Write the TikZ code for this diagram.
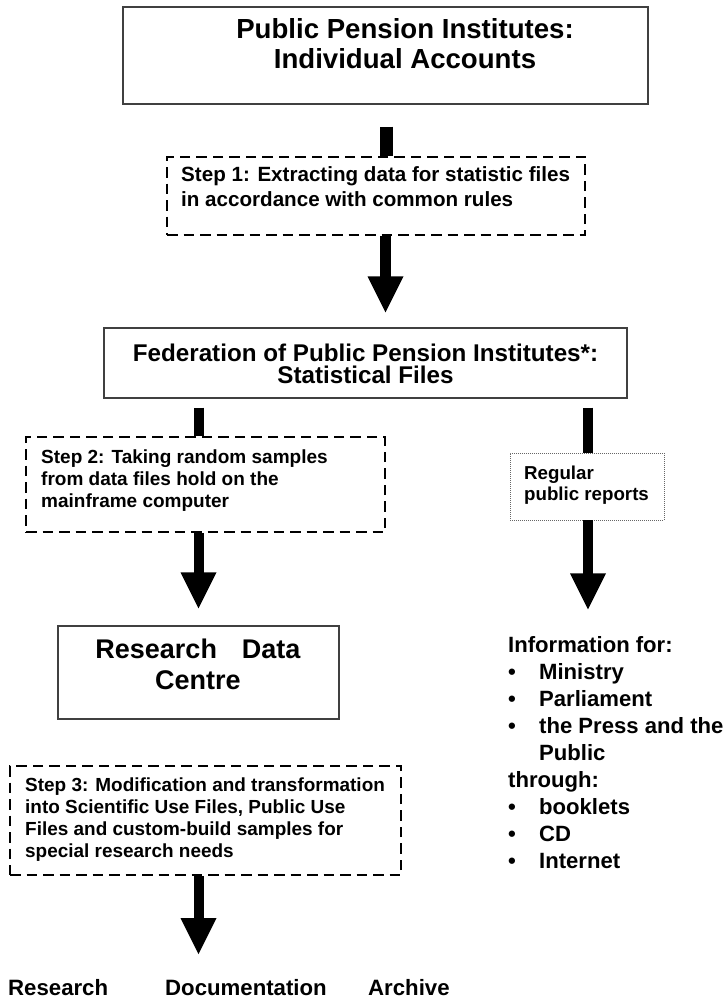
\documentclass[tikz,border=0pt]{standalone}
\usepackage{fontspec}
\setmainfont{Liberation Sans}
\usetikzlibrary{calc}
\newcommand\bulitem{\makebox[31pt][l]{\textbullet}}
\tikzset{
  solidbox/.style={draw=black!75, line width=1.3pt, inner sep=0pt},
  dashbox/.style={draw=black, line width=2pt, dash pattern=on 10.5pt off 6pt, inner sep=0pt},
  dotbox/.style={draw=black!60, line width=0.9pt, dash pattern=on 1pt off 1pt, inner sep=0pt},
  txt/.style={inner sep=0pt},
  shaftline/.style={draw=black, line width=#1},
  ahead/.pic={\fill[black] (-18,0) -- (18,0) -- (0,36) -- cycle;}
}
\begin{document}
\begin{tikzpicture}[x=1pt,y=-1pt]
\useasboundingbox (0,0) rectangle (727,998);

% boxes (text nodes are anchored at the baseline of their last line)
\node[solidbox, minimum width=525pt, minimum height=97pt] (top) at (385.5,55.5) {};
\node[txt, align=center, anchor=base, font=\bfseries\fontsize{27.6pt}{29pt}\selectfont] (toptxt) at (405,68) {Public Pension Institutes:\\Individual Accounts};

\node[dashbox, minimum width=418pt, minimum height=78pt] (s1) at (376,196) {};
\node[txt, align=left, anchor=base west, font=\bfseries\fontsize{20.6pt}{25pt}\selectfont] (s1txt) at (181,206) {Step 1: Extracting data for statistic files\\in accordance with common rules};

\node[solidbox, minimum width=523pt, minimum height=70pt] (fed) at (365.5,363) {};
\node[txt, align=center, anchor=base, font=\bfseries\fontsize{24.2pt}{22pt}\selectfont] (fedtxt) at (365.5,383.5) {Federation of Public Pension Institutes*:\\Statistical Files};

\node[dashbox, minimum width=359pt, minimum height=95pt] (s2) at (205.5,484.5) {};
\node[txt, align=left, anchor=base west, font=\bfseries\fontsize{19pt}{22pt}\selectfont] (s2txt) at (41,507) {Step 2: Taking random samples\\from data files hold on the\\mainframe computer};

\node[dotbox, minimum width=154pt, minimum height=67pt] (reg) at (587,486.5) {};
\node[txt, align=left, anchor=base west, font=\bfseries\fontsize{18.7pt}{21pt}\selectfont] (regtxt) at (524,500) {Regular\\public reports};

\node[solidbox, minimum width=281pt, minimum height=93pt] (rdc) at (198.5,672.5) {};
\node[txt, align=center, anchor=base, font=\bfseries\fontsize{27pt}{31pt}\selectfont] (rdctxt) at (198,689) {Research\hspace{25pt}Data\\Centre};

\node[txt, align=left, anchor=base west, font=\bfseries\fontsize{22.1pt}{26.9pt}\selectfont] (info) at (508,868) {Information for:\\\bulitem Ministry\\\bulitem Parliament\\\bulitem the Press and the\\\hspace*{31pt}Public\\through:\\\bulitem booklets\\\bulitem CD\\\bulitem Internet};

\node[dashbox, minimum width=391pt, minimum height=109pt] (s3) at (205.5,820.5) {};
\node[txt, align=left, anchor=base west, font=\bfseries\fontsize{18.95pt}{22pt}\selectfont] (s3txt) at (25,857) {Step 3: Modification and transformation\\into Scientific Use Files, Public Use\\Files and custom-build samples for\\special research needs};

\node[txt, anchor=base west, font=\bfseries\fontsize{22.2pt}{26pt}\selectfont] (res) at (8,995) {Research};
\node[txt, anchor=base west, font=\bfseries\fontsize{22.2pt}{26pt}\selectfont] (doc) at (165,995) {Documentation};
\node[txt, anchor=base west, font=\bfseries\fontsize{22.2pt}{26pt}\selectfont] (arc) at (368,995) {Archive};

% connectors
\draw[shaftline=13pt] ($(top.south)+(1,22)$) -- ($(top.south |- s1.north)+(1,0)$);

\draw[shaftline=11pt] ($(s1.south)+(9.5,0)$) -- ($(fed.north)+(20,-50)$);
\pic at ($(fed.north)+(20,-51)$) {ahead};

\draw[shaftline=10pt] ($(fed.south -| s2.north)+(-7,9)$) -- ($(s2.north)+(-7,0)$);
\draw[shaftline=10pt] ($(fed.south -| reg.north)+(1,9)$) -- ($(reg.north)+(1,0)$);

\draw[shaftline=10pt] ($(s2.south)+(-7,0)$) -- ($(rdc.north)+(0,-52)$);
\pic at ($(rdc.north)+(0,-53)$) {ahead};

\coordinate (infotop) at ($(reg.south)+(1,53)$);
\draw[shaftline=10pt] ($(reg.south)+(1,0)$) -- ($(infotop)+(0,1)$);
\pic at (infotop) {ahead};

\coordinate (outtop) at ($(s3.south)+(-7,42)$);
\draw[shaftline=10pt] ($(s3.south)+(-7,0)$) -- ($(outtop)+(0,1)$);
\pic at (outtop) {ahead};
\end{tikzpicture}
\end{document}
